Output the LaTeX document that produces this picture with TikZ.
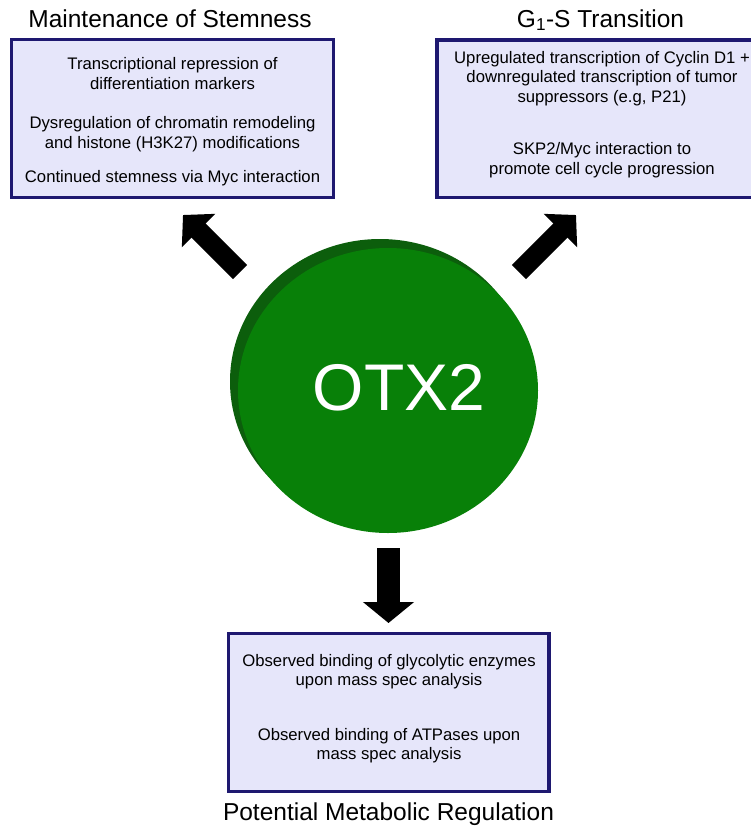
\documentclass[tikz,border=0pt]{standalone}
\usepackage{fontspec}
\setmainfont{Liberation Sans}
\usetikzlibrary{arrows.meta}
\usetikzlibrary{shapes.geometric}
\usetikzlibrary{positioning}

\definecolor{otxgreen}{RGB}{8,128,8}
\definecolor{otxshade}{RGB}{12,94,12}
\definecolor{boxfill}{RGB}{230,230,250}
\definecolor{boxline}{RGB}{30,24,112}

\tikzset{
	infobox/.style={draw=boxline, line width=3.5pt, fill=boxfill, inner sep=0pt},
	boxtext/.style={align=center, inner sep=0pt, font=\fontsize{16.7}{19.5}\selectfont},
	heading/.style={anchor=base, font=\fontsize{24.5}{28}\selectfont},
	bigarrow/.style={line width=20pt, -{Triangle[length=22pt 0 0, width=46pt 0 0]}},
	disc/.style={ellipse, minimum width=300pt, minimum height=285pt, inner sep=0pt}
}

\begin{document}
\begin{tikzpicture}[x=1pt,y=-1pt]
		\useasboundingbox (0,0) rectangle (751,828);
		
		\node[disc, fill=otxshade] (otxback) at (380,381.5) {};
		\node[disc, fill=otxgreen] (otx) at (388,390.5) {};
		\node[anchor=base, text=white, font=\fontsize{66}{72}\selectfont] (otxlabel) at (399,410) {OTX2};
		
		\node[infobox, minimum width=322pt, minimum height=158pt] (stem) at (172.5,118.5) {};
		\node[infobox, minimum width=330pt, minimum height=157.5pt] (gones) at (602,118.75) {};
		\node[infobox, minimum width=320.5pt, minimum height=158pt] (metab) at (388.75,712.5) {};
		
		\node[boxtext] (stemtext) at (172.5,122) {Transcriptional repression of\\differentiation markers\\[20pt]Dysregulation of chromatin remodeling\\and histone (H3K27) modifications\\[15pt]Continued stemness via Myc interaction};
		\node[boxtext] (gonestext) at (602,114.5) {Upregulated transcription of Cyclin D1 +\\downregulated transcription of tumor\\suppressors (e.g, P21)\\[33pt]SKP2/Myc interaction to\\promote cell cycle progression};
		\node[boxtext, font=\fontsize{16.7}{19}\selectfont] (metabtext) at (389,709) {Observed binding of glycolytic enzymes\\upon mass spec analysis\\[36pt]Observed binding of ATPases upon\\mass spec analysis};
		
		\node[heading] (stemtitle) at (170,27) {Maintenance of Stemness};
		\node[heading] (gonestitle) at (600.5,27) {G\textsubscript{1}-S Transition};
		\node[heading] (metabtitle) at (388.5,820) {Potential Metabolic Regulation};
		
		\coordinate (stemtail) at (240,272);
		\coordinate (stemtip) at (183,215);
		\coordinate (gonestail) at (519,272);
		\coordinate (gonestip) at (576,215);
		\coordinate (metabtail) at (388.5,548);
		\coordinate (metabtip) at (388.5,623);
		
		\draw[bigarrow] (stemtail) -- (stemtip);
		\draw[bigarrow] (gonestail) -- (gonestip);
		\draw[bigarrow, line width=23pt, -{Triangle[length=21pt 0 0, width=50pt 0 0]}] (metabtail) -- (metabtip);
		
\end{tikzpicture}
\end{document}
